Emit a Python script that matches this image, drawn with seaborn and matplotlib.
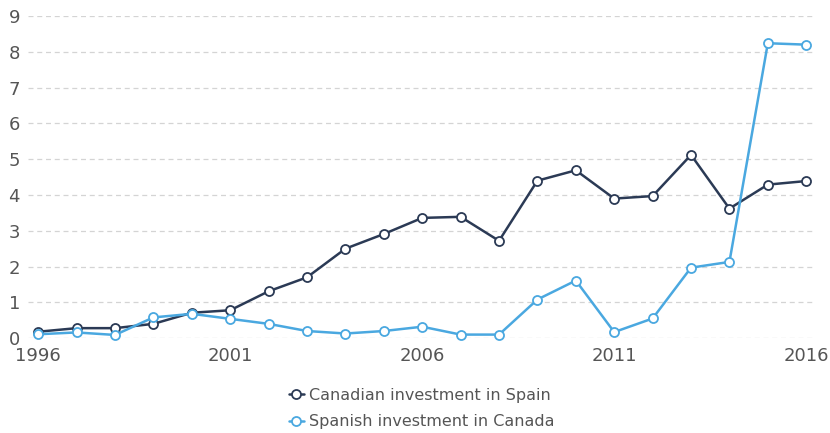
import matplotlib
matplotlib.use("Agg")
import matplotlib.pyplot as plt
import seaborn as sns
import pandas as pd

# ─────────────────────────────────────────────
# DATOS
# ─────────────────────────────────────────────
years = list(range(1996, 2017))
canadian_in_spain = [0.18, 0.28, 0.28, 0.40, 0.71, 0.78, 1.31, 1.70, 2.50, 2.91, 3.36,
                     3.39, 2.72, 4.40, 4.69, 3.90, 3.97, 5.12, 3.62, 4.29, 4.39]
spanish_in_canada = [0.11, 0.16, 0.09, 0.58, 0.68, 0.54, 0.40, 0.20, 0.13, 0.20, 0.32,
                     0.10, 0.10, 1.08, 1.61, 0.17, 0.55, 1.97, 2.13, 8.24, 8.20]
series_names = ["Canadian investment in Spain", "Spanish investment in Canada"]
colors = ["#2b3a55", "#4aa8e0"]
x_ticks = [1996, 2001, 2006, 2011, 2016]
y_ticks = list(range(0, 10))

df = pd.DataFrame({
    "year": years * 2,
    "value": canadian_in_spain + spanish_in_canada,
    "series": [series_names[0]] * len(years) + [series_names[1]] * len(years),
})

sns.set_style("white")
plt.rcParams["font.family"] = ["DejaVu Sans"]

fig = plt.figure(figsize=(8.3, 4.33), dpi=100)
ax = fig.add_axes([0.034, 0.219, 0.948, 0.744])

for name, color in zip(series_names, colors):
    sns.lineplot(
        data=df[df["series"] == name], x="year", y="value",
        color=color, linewidth=1.8, marker="o", markersize=6.5,
        markerfacecolor="white", markeredgecolor=color, markeredgewidth=1.3,
        label=name, ax=ax, clip_on=False, zorder=3,
    )

ax.set_xlim(1995.74, 2016.23)
ax.set_ylim(0, 9)
ax.set_xticks(x_ticks)
ax.set_yticks(y_ticks)
ax.yaxis.grid(True, linestyle=(0, (4, 3)), color="#d4d4d4", linewidth=0.9)
ax.xaxis.grid(False)
for s in ax.spines.values():
    s.set_visible(False)
ax.set_xlabel("")
ax.set_ylabel("")
ax.tick_params(axis="both", length=0, labelsize=13, colors="#555555")
ax.tick_params(axis="y", pad=6)
ax.tick_params(axis="x", pad=6)

leg = ax.legend(
    loc="upper center", bbox_to_anchor=(0.5, -0.11), ncol=1, frameon=False,
    fontsize=11.5, handlelength=1.0, handletextpad=0.3, labelspacing=0.7,
)
for t in leg.get_texts():
    t.set_color("#555555")

plt.savefig("out.png", dpi=100)
